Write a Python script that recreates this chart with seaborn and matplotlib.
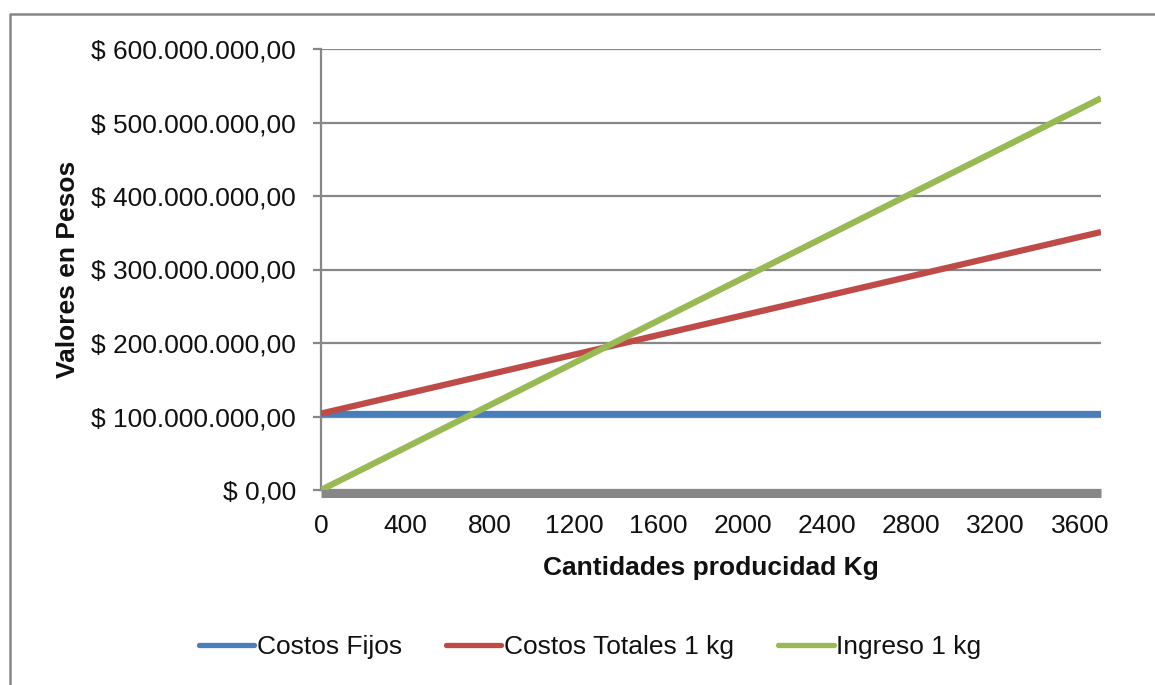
import matplotlib
matplotlib.use("Agg")
import matplotlib.pyplot as plt
from matplotlib.lines import Line2D
from matplotlib.ticker import FuncFormatter, MultipleLocator
import seaborn as sns
import pandas as pd

# Quantities produced (kg) at the ends of each straight line
cantidades = [0, 3700]
costos_fijos = [104_000_000, 104_000_000]
costos_totales = [104_000_000, 351_000_000]
ingreso = [0, 533_000_000]

series_names = ["Costos Fijos", "Costos Totales 1 kg", "Ingreso 1 kg"]
series_colors = ["#4a7ebb", "#be4b48", "#98b954"]
x_ticks = [0, 400, 800, 1200, 1600, 2000, 2400, 2800, 3200, 3600]

df = pd.DataFrame({
    "Cantidad": cantidades * 3,
    "Valor": costos_fijos + costos_totales + ingreso,
    "Serie": [series_names[0]] * 2 + [series_names[1]] * 2 + [series_names[2]] * 2,
})

sns.set_theme(style="white")
plt.rcParams["font.family"] = ["Liberation Sans", "DejaVu Sans"]

grey = "#878787"
fig = plt.figure(figsize=(11.55, 6.85), dpi=100)
ax = fig.add_axes([321 / 1155, 1 - 490 / 685, 780 / 1155, 441 / 685])

sns.lineplot(data=df, x="Cantidad", y="Valor", hue="Serie",
             palette=dict(zip(series_names, series_colors)),
             linewidth=4.5, legend=False, ax=ax, zorder=4,
             solid_capstyle="butt")

ax.set_xlim(0, 3700)
ax.set_ylim(0, 600_000_000)
ax.set_xticks(x_ticks)
ax.yaxis.set_major_locator(MultipleLocator(100_000_000))


def pesos(v, _pos):
    entero = f"{int(round(v)):,}".replace(",", ".")
    return f"$ {entero},00"


ax.yaxis.set_major_formatter(FuncFormatter(pesos))

ax.grid(axis="y", color=grey, linewidth=1.6, zorder=1)
ax.grid(axis="x", visible=False)

# Thick horizontal category axis sitting just under the zero line
for side in ["top", "right"]:
    ax.spines[side].set_visible(False)
ax.spines["bottom"].set_color(grey)
ax.spines["bottom"].set_linewidth(6.5)
ax.spines["bottom"].set_capstyle("butt")
ax.spines["bottom"].set_position(("outward", 2.5))
ax.spines["bottom"].set_zorder(3)
ax.spines["left"].set_color(grey)
ax.spines["left"].set_linewidth(1.6)

ax.tick_params(axis="y", which="major", left=True, length=6, width=1.6,
               color=grey, pad=12, labelsize=19, labelcolor="#111111")
ax.tick_params(axis="x", which="major", bottom=False, length=0, pad=14.8,
               labelsize=19, labelcolor="#111111")

ax.set_xlabel("Cantidades producidad Kg", fontsize=19, fontweight="bold",
              labelpad=13, color="#111111")
ax.set_ylabel("Valores en Pesos", fontsize=19, fontweight="bold",
              labelpad=8, color="#111111")

handles = [Line2D([0], [0], color=c, linewidth=3.8, solid_capstyle="round")
           for c in series_colors]
fig.legend(handles, series_names, loc="center",
           bbox_to_anchor=(590 / 1155, 1 - 647 / 685), ncol=3, frameon=False,
           fontsize=19, handlelength=2.1, handletextpad=0.1,
           columnspacing=1.67, labelcolor="#111111")

# Chart frame along the top and left edges
fx = 10 / 1155
fy = 1 - 14 / 685
fig.add_artist(Line2D([fx, fx, 1.0], [0.0, fy, fy], transform=fig.transFigure,
                      color=grey, linewidth=1.8))

fig.savefig("out.png", dpi=100, facecolor="white")
